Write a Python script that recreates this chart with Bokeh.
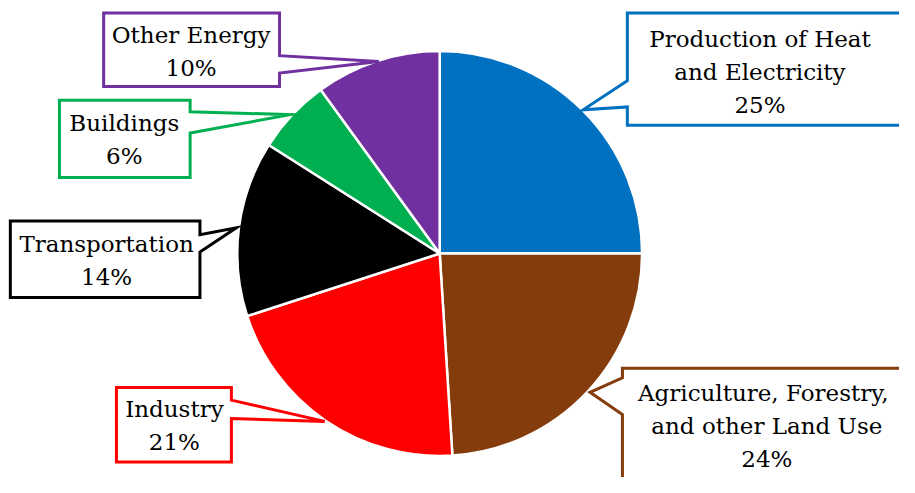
import numpy as np
from bokeh.plotting import figure
from bokeh.models import Range1d
from bokeh.core.properties import value
from bokeh.embed import file_html
from bokeh.resources import INLINE

# ---- data ----
categories = ["Production of Heat and Electricity",
              "Agriculture, Forestry, and other Land Use",
              "Industry", "Transportation", "Buildings", "Other Energy"]
label_text = ["Production of Heat\nand Electricity",
              "Agriculture,  Forestry,\nand other Land Use",
              "Industry", "Transportation", "Buildings", "Other Energy"]
values = [25, 24, 21, 14, 6, 10]
colors = ["#0070C0", "#843C0C", "#FF0000", "#000000", "#00B050", "#7030A0"]

# ---- layout (pixel coordinates of the 915x493 reference frame) ----
W, H = 899, 477
RW, RH = 915, 493
def Y(sy):
    return RH - sy

cx, cy, r = 447, 261.5, 206

# box (x0, y0, x1, y1), side of pointer, pointer base (b1, b2), tip, text centre
callouts = [
    dict(box=(638, 13, 925, 129), side="left", base=(83, 110), tip=(593, 113), txt=(773, 74)),
    dict(box=(633, 380, 925, 505), side="left", base=(390, 428), tip=(600, 405), txt=(780, 440)),
    dict(box=(118, 400, 235, 477), side="right", base=(413, 432), tip=(330, 435), txt=(177, 439)),
    dict(box=(10, 228, 203, 307), side="right", base=(242, 260), tip=(240, 235), txt=(108, 269)),
    dict(box=(60, 103, 193, 183), side="right", base=(115, 137), tip=(295, 118), txt=(126, 144)),
    dict(box=(105, 13, 284, 89), side="right", base=(57, 75), tip=(385, 63), txt=(194, 53)),
]

p = figure(width=W, height=H, x_range=Range1d(0, RW), y_range=Range1d(0, RH),
           output_backend="svg", toolbar_location=None, min_border=0)
p.axis.visible = False
p.xgrid.visible = False
p.ygrid.visible = False
p.outline_line_color = None
p.background_fill_color = "white"

vals = np.array(values, dtype=float)
frac = vals / vals.sum()
cum = np.concatenate([[0], np.cumsum(frac)])
start = np.pi / 2 - cum[:-1] * 2 * np.pi
end = np.pi / 2 - cum[1:] * 2 * np.pi

p.wedge(x=cx, y=Y(cy), radius=r, radius_units="data",
        start_angle=start, end_angle=end, direction="clock",
        fill_color=colors, line_color="white", line_width=2.5)

xs, ys = [], []
for c in callouts:
    x0, y0, x1, y1 = c["box"]
    b1, b2 = c["base"]
    tx, ty = c["tip"]
    if c["side"] == "left":
        pts = [(x0, y0), (x1, y0), (x1, y1), (x0, y1), (x0, b2), (tx, ty), (x0, b1)]
    else:
        pts = [(x0, y0), (x1, y0), (x1, b1), (tx, ty), (x1, b2), (x1, y1), (x0, y1)]
    xs.append([q[0] for q in pts])
    ys.append([Y(q[1]) for q in pts])

p.patches(xs, ys, fill_color="white", line_color=colors, line_width=3, line_join="miter")

texts = [f"{t}\n{v}%" for t, v in zip(label_text, values)]
p.text(x=[c["txt"][0] for c in callouts], y=[Y(c["txt"][1]) for c in callouts], text=texts,
       text_font=value("DejaVu Serif"), text_font_size="23px",
       text_align="center", text_baseline="middle", text_color="black",
       text_line_height=1.27)

open("out.html", "w").write(file_html(p, INLINE))
